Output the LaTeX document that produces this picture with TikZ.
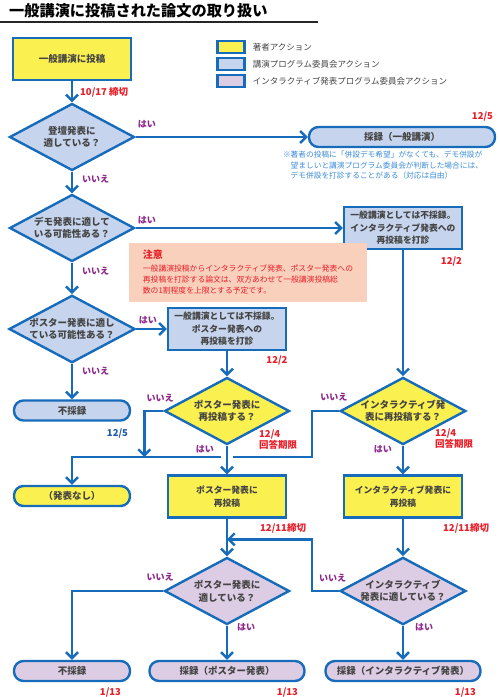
\documentclass[tikz,border=0pt]{standalone}
\usepackage{fontspec}
\setmainfont{Noto Sans CJK JP}
\usetikzlibrary{shapes.geometric, arrows.meta}

\definecolor{flowblue}{RGB}{22,108,186}
\definecolor{authoryellow}{RGB}{250,240,80}
\definecolor{lectureblue}{RGB}{198,213,237}
\definecolor{interlilac}{RGB}{221,205,228}
\definecolor{answerpurple}{RGB}{142,40,140}
\definecolor{deadlinered}{RGB}{232,30,40}
\definecolor{deadlineblue}{RGB}{30,90,170}
\definecolor{cautionpink}{RGB}{249,208,188}
\definecolor{remarkblue}{RGB}{60,140,215}
\definecolor{textgray}{RGB}{68,68,68}

\tikzstyle{process} = [rectangle, minimum width=118pt, minimum height=42pt,
    text centered, align=center, draw=flowblue, line width=2.4pt, text=textgray,
    font=\bfseries\fontsize{8.8}{12.5}\selectfont]
\tikzstyle{decision} = [diamond, aspect=1.87, inner sep=0pt, minimum width=125pt,
    minimum height=67pt, text centered, align=center, draw=flowblue, line width=2.4pt,
    text=textgray, font=\bfseries\fontsize{9.5}{12.5}\selectfont]
\tikzstyle{terminal} = [rectangle, rounded corners=9.5pt, minimum height=20pt,
    text centered, draw=flowblue, line width=2.4pt, text=textgray,
    font=\bfseries\fontsize{9.5}{12.5}\selectfont]
\tikzstyle{author} = [fill=authoryellow]
\tikzstyle{lecture} = [fill=lectureblue]
\tikzstyle{inter} = [fill=interlilac]
\tikzstyle{arrow} = [line width=2.4pt, draw=flowblue, ->,
    >={Straight Barb[length=6pt,width=12pt]}]
\tikzstyle{answer} = [inner sep=0pt, text=answerpurple,
    font=\bfseries\fontsize{9}{9}\selectfont]
\tikzstyle{deadline} = [inner sep=0pt, text=deadlinered, align=left,
    font=\bfseries\fontsize{9.5}{11}\selectfont]
\tikzstyle{legendbox} = [rectangle, minimum width=27pt, minimum height=12pt,
    draw=flowblue, line width=2.4pt]
\tikzstyle{legendtext} = [anchor=west, inner sep=0pt, text=textgray,
    font=\fontsize{8.5}{8.5}\selectfont]
\tikzstyle{caution} = [rectangle, fill=cautionpink, minimum width=238pt,
    minimum height=59pt, align=left, text=deadlinered,
    font=\fontsize{7.8}{11}\selectfont]
\tikzstyle{remark} = [inner sep=0pt, align=left, text=remarkblue,
    font=\fontsize{7.7}{10.5}\selectfont]

\begin{document}
\begin{tikzpicture}[x=1pt, y=1pt, node distance=90pt]
\useasboundingbox (0,0) rectangle (500,-697);

% Title
\node (title) [anchor=west, inner sep=0pt, font=\bfseries\fontsize{15.2}{15.2}\selectfont]
    at (9,-11) {一般講演に投稿された論文の取り扱い};
\draw [line width=2pt, black!85] (0,-22) -- (318,-22);

% Legend
\node (keyauthor) [legendbox, author] at (231,-47) {};
\node (keylecture) [legendbox, lecture, node distance=17pt, below of=keyauthor] {};
\node (keyinter) [legendbox, inter, node distance=17pt, below of=keylecture] {};
\node (keyauthortext) [legendtext] at ([xshift=7pt]keyauthor.east) {著者アクション};
\node (keylecturetext) [legendtext] at ([xshift=7pt]keylecture.east) {講演プログラム委員会アクション};
\node (keyintertext) [legendtext] at ([xshift=7pt]keyinter.east) {インタラクティブ発表プログラム委員会アクション};

% Nodes
\node (post) [process, author, font=\bfseries\fontsize{9.5}{12.5}\selectfont] at (72,-59) {一般講演に投稿};
\node (d1) [decision, lecture, below of=post, yshift=12pt] {登壇発表に\\適している？};
\node (acc) [terminal, lecture, minimum width=186pt, right of=d1, xshift=240pt] {採録（一般講演）};
\node (d2) [decision, lecture, below of=d1, yshift=-1pt] {デモ発表に適して\\いる可能性ある？};
\node (intbox) [process, lecture, right of=d2, xshift=241pt] {一般講演としては不採録。\\インタラクティブ発表への\\再投稿を打診};
\node (caution) [caution, right of=d2, xshift=86pt, yshift=-44.5pt]
    {{\bfseries\fontsize{10}{12}\selectfont 注意}\\[2pt]
     一般講演投稿からインタラクティブ発表、ポスター発表への\\
     再投稿を打診する論文は、双方あわせて一般講演投稿総\\
     数の1割程度を上限とする予定です。};
\node (d3) [decision, lecture, below of=d2, yshift=-11pt] {ポスター発表に適し\\ている可能性ある？};
\node (posbox) [process, lecture, right of=d3, xshift=65pt] {一般講演としては不採録。\\ポスター発表への\\再投稿を打診};
\node (rej1) [terminal, lecture, minimum width=116pt, below of=d3, yshift=8.5pt] {不採録};
\node (yd1) [decision, author, below of=posbox, yshift=8pt] {ポスター発表に\\再投稿する？};
\node (yd2) [decision, author, right of=yd1, xshift=86pt] {インタラクティブ発\\表に再投稿する？};
\node (none) [terminal, author, minimum width=116pt, below of=rej1, yshift=4.5pt] {（発表なし）};
\node (posre) [process, author, below of=yd1, yshift=4.5pt] {ポスター発表に\\再投稿};
\node (intre) [process, author, below of=yd2, yshift=4.5pt] {インタラクティブ発表に\\再投稿};
\node (pd1) [decision, inter, below of=posre, yshift=-4.5pt] {ポスター発表に\\適している？};
\node (pd2) [decision, inter, below of=intre, yshift=-4.5pt] {インタラクティブ\\発表に適している？};
\node (rej2) [terminal, inter, minimum width=116pt, below of=none, yshift=-85pt] {不採録};
\node (accpos) [terminal, inter, minimum width=155pt, below of=pd1, yshift=10pt] {採録（ポスター発表）};
\node (accint) [terminal, inter, minimum width=155pt, below of=pd2, yshift=10pt] {採録（インタラクティブ発表）};

\node (remark) [remark, anchor=north west] at ([xshift=-25pt,yshift=-3pt]acc.south west)
    {※著者の投稿に「併設デモ希望」がなくても、デモ併設が\\
     \hspace*{1em}望ましいと講演プログラム委員会が判断した場合には、\\
     \hspace*{1em}デモ併設を打診することがある（対応は自由）};

% Labels
\node (dl1) [deadline, anchor=west] at ([xshift=8pt,yshift=-11pt]post.south) {10/17 締切};
\node (y1) [answer, anchor=west] at ([xshift=2pt,yshift=13pt]d1.east) {はい};
\node (n1) [answer, anchor=west] at ([xshift=10pt,yshift=-7.5pt]d1.south) {いいえ};
\node (dl2) [deadline, anchor=east] at ([xshift=-3pt,yshift=9pt]acc.north east) {12/5};
\node (y2) [answer, anchor=west] at ([xshift=2pt,yshift=8pt]d2.east) {はい};
\node (n2) [answer, anchor=west] at ([xshift=10pt,yshift=-8.5pt]d2.south) {いいえ};
\node (dl3) [deadline, anchor=east] at ([xshift=-1pt,yshift=-11.5pt]intbox.south east) {12/2};
\node (y3) [answer, anchor=west] at ([xshift=2.5pt,yshift=9pt]d3.east) {はい};
\node (n3) [answer, anchor=west] at ([xshift=10pt,yshift=-7.5pt]d3.south) {いいえ};
\node (dl4) [deadline, anchor=east] at ([xshift=0.5pt,yshift=-9.5pt]posbox.south east) {12/2};
\node (dl5) [deadline, anchor=east, text=deadlineblue] at ([xshift=-3pt,yshift=-11.5pt]rej1.south east) {12/5};
\node (n4) [answer, anchor=east] at ([xshift=10.5pt,yshift=13pt]yd1.west) {いいえ};
\node (y4) [answer, anchor=east] at ([xshift=-13pt,yshift=-3.5pt]yd1.south) {はい};
\node (dl6) [deadline, anchor=north west] at ([xshift=32pt,yshift=16pt]yd1.south) {12/4\\回答期限};
\node (n5) [answer, anchor=east] at ([xshift=8.5pt,yshift=14pt]yd2.west) {いいえ};
\node (y5) [answer, anchor=east] at ([xshift=-11pt,yshift=-3.5pt]yd2.south) {はい};
\node (dl7) [deadline, anchor=north west] at ([xshift=32pt,yshift=17.5pt]yd2.south) {12/4\\回答期限};
\node (dl8) [deadline, anchor=east] at ([xshift=19pt,yshift=-9.5pt]posre.south east) {12/11締切};
\node (dl9) [deadline, anchor=east] at ([xshift=26pt,yshift=-9.5pt]intre.south east) {12/11締切};
\node (n6) [answer, anchor=east] at ([xshift=10.5pt,yshift=14pt]pd1.west) {いいえ};
\node (y6) [answer, anchor=west] at ([xshift=10pt,yshift=-1.5pt]pd1.south) {はい};
\node (n7) [answer, anchor=east] at ([xshift=7.5pt,yshift=13pt]pd2.west) {いいえ};
\node (y7) [answer, anchor=west] at ([xshift=12pt,yshift=-1.5pt]pd2.south) {はい};
\node (dl10) [deadline, anchor=east] at ([xshift=-10pt,yshift=-10pt]rej2.south east) {1/13};
\node (dl11) [deadline, anchor=east] at ([xshift=-7.5pt,yshift=-10pt]accpos.south east) {1/13};
\node (dl12) [deadline, anchor=east] at ([xshift=-5.5pt,yshift=-10pt]accint.south east) {1/13};

% Arrows
\coordinate (merge) at ([yshift=39pt]none.center);
\coordinate (hop) at (merge -| yd1);
\draw [arrow] (post) -- (d1);
\draw [arrow] (d1) -- (acc);
\draw [arrow] (d1) -- (d2);
\draw [arrow] (d2) -- (intbox);
\draw [arrow] (d2) -- (d3);
\draw [arrow] (d3) -- (posbox);
\draw [arrow] (d3) -- (rej1);
\draw [arrow] (posbox) -- (yd1);
\draw [arrow] (intbox) -- (yd2);
\draw [arrow] (yd2.west) -- ++(-27pt,0) |- (merge) -- (none);
\draw [arrow] (yd1.west) -- ++(-19pt,0) coordinate (nobend) -- (nobend |- merge);
\fill [white] ([xshift=-6pt,yshift=-3pt]hop) rectangle ([xshift=6pt,yshift=3pt]hop);
\draw [arrow] (yd1) -- (posre);
\draw [arrow] (yd2) -- (intre);
\draw [arrow] (posre) -- (pd1);
\draw [arrow] (intre) -- (pd2);
\draw [arrow] (pd2.west) -- ++(-27pt,0) |- ([yshift=17pt]pd1.north);
\draw [arrow] (pd1.west) -| (rej2);
\draw [arrow] (pd1) -- (accpos);
\draw [arrow] (pd2) -- (accint);

\end{tikzpicture}
\end{document}
